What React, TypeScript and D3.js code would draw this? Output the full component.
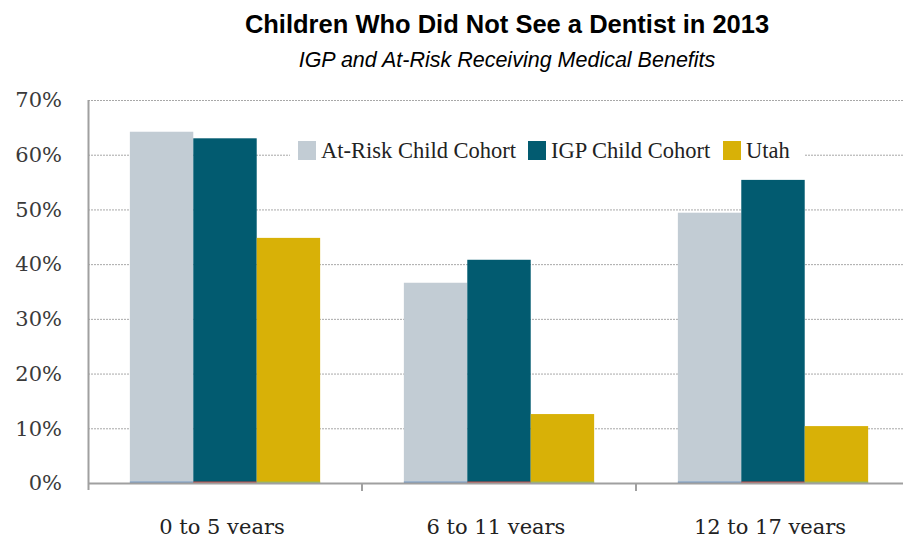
import { useEffect, useRef } from 'react';
import * as d3 from "d3";

const categories = ["0 to 5 years", "6 to 11 years", "12 to 17 years"];
const seriesNames = ["At-Risk Child Cohort", "IGP Child Cohort", "Utah"];
const atRisk = [64.2, 36.6, 49.4];
const igp = [63.0, 40.8, 55.4];
const utah = [44.8, 12.6, 10.4];
const yTicks = [0, 10, 20, 30, 40, 50, 60, 70];
const colors = ["#C2CCD4", "#025B70", "#D8B107"];
// thin lines at the base of the bars (hidden series in the original)
const baseColors = ["#7B9CC4", "#C0504D", "#9BBB59"];

const App: React.FC = () => {
    const ref = useRef<SVGSVGElement | null>(null);

    useEffect(() => {
        if (!ref.current) return;
        const width = 911;
        const height = 542;
        const margin = { top: 100, right: 1, bottom: 59, left: 88 };
        const innerWidth = width - margin.left - margin.right;
        const innerHeight = height - margin.top - margin.bottom;

        const svg = d3.select(ref.current)
            .attr("width", width)
            .attr("height", height);
        svg.selectAll("*").remove();

        const serif = "'DejaVu Serif', serif";
        const legendFont = "'Liberation Serif', serif";

        // 제목
        svg.append("text")
            .attr("x", 507).attr("y", 33)
            .attr("text-anchor", "middle")
            .attr("font-family", "'Liberation Sans Narrow', 'Liberation Sans', sans-serif")
            .attr("font-weight", "bold")
            .attr("font-size", "25.5px")
            .attr("fill", "#000")
            .text("Children Who Did Not See a Dentist in 2013");

        svg.append("text")
            .attr("x", 507).attr("y", 67)
            .attr("text-anchor", "middle")
            .attr("font-family", "'Liberation Sans Narrow', 'Liberation Sans', sans-serif")
            .attr("font-style", "italic")
            .attr("font-size", "21.5px")
            .attr("fill", "#000")
            .text("IGP and At-Risk Receiving Medical Benefits");

        const x0 = d3.scaleBand()
            .domain(categories)
            .range([0, innerWidth])
            .paddingInner(0)
            .paddingOuter(0);

        const x1 = d3.scaleBand()
            .domain(seriesNames)
            .range([0, x0.bandwidth()])
            .paddingOuter(0.66)
            .paddingInner(0);

        const y = d3.scaleLinear()
            .domain([0, 70])
            .range([innerHeight, 0]);

        const g = svg.append("g")
            .attr("transform", `translate(${margin.left}, ${margin.top})`);

        // 그리드
        g.selectAll(".grid")
            .data(yTicks.filter(d => d > 0))
            .enter()
            .append("line")
            .attr("x1", 0)
            .attr("x2", innerWidth)
            .attr("y1", d => y(d) + 0.5)
            .attr("y2", d => y(d) + 0.5)
            .attr("stroke", "#A8A8A8")
            .attr("stroke-width", 1)
            .attr("stroke-dasharray", "2,1");

        const rows = categories.map((c, i) => ({ c, vals: [atRisk[i], igp[i], utah[i]] }));

        const groups = g.selectAll(".grp")
            .data(rows)
            .enter()
            .append("g")
            .attr("transform", d => `translate(${x0(d.c) || 0}, 0)`);

        groups.selectAll("rect.bar")
            .data(d => d.vals.map((v, k) => ({ name: seriesNames[k], v, k })))
            .enter()
            .append("rect")
            .attr("class", "bar")
            .attr("x", d => x1(d.name) || 0)
            .attr("y", d => y(d.v))
            .attr("width", x1.bandwidth())
            .attr("height", d => innerHeight - y(d.v))
            .attr("fill", d => colors[d.k]);

        groups.selectAll("rect.base")
            .data(seriesNames.map((name, k) => ({ name, k })))
            .enter()
            .append("rect")
            .attr("class", "base")
            .attr("x", d => x1(d.name) || 0)
            .attr("y", innerHeight - 1.5)
            .attr("width", x1.bandwidth())
            .attr("height", 1.5)
            .attr("fill", d => baseColors[d.k]);

        // 축
        const axisColor = "#A0A0A0";
        g.append("line")
            .attr("x1", 0.5).attr("x2", 0.5)
            .attr("y1", 0).attr("y2", innerHeight + 7)
            .attr("stroke", axisColor).attr("stroke-width", 2);

        g.append("line")
            .attr("x1", 0).attr("x2", innerWidth)
            .attr("y1", innerHeight + 0.5).attr("y2", innerHeight + 0.5)
            .attr("stroke", axisColor).attr("stroke-width", 2);

        g.selectAll(".xtick")
            .data(categories.slice(1))
            .enter()
            .append("line")
            .attr("x1", d => (x0(d) || 0))
            .attr("x2", d => (x0(d) || 0))
            .attr("y1", innerHeight)
            .attr("y2", innerHeight + 8)
            .attr("stroke", axisColor).attr("stroke-width", 2);

        g.selectAll(".ylabel")
            .data(yTicks)
            .enter()
            .append("text")
            .attr("x", -26)
            .attr("y", d => y(d))
            .attr("dy", "0.35em")
            .attr("text-anchor", "end")
            .attr("font-family", serif)
            .attr("font-size", "21px")
            .attr("fill", "#3a3a3a")
            .text(d => `${d}%`);

        g.selectAll(".xlabel")
            .data(categories)
            .enter()
            .append("text")
            .attr("x", d => (x0(d) || 0) + x0.bandwidth() / 2 - 3)
            .attr("y", innerHeight + 51)
            .attr("text-anchor", "middle")
            .attr("font-family", serif)
            .attr("font-size", "21px")
            .attr("fill", "#222")
            .text(d => d);

        // 범례
        const legendX = [298, 528, 723];
        const legend = svg.append("g");
        legend.append("rect")
            .attr("x", 290).attr("y", 137)
            .attr("width", 515).attr("height", 28)
            .attr("fill", "#fff");
        seriesNames.forEach((name, k) => {
            legend.append("rect")
                .attr("x", legendX[k]).attr("y", 141)
                .attr("width", 18).attr("height", 19)
                .attr("fill", colors[k]);
            legend.append("text")
                .attr("x", legendX[k] + 23)
                .attr("y", 158)
                .attr("font-family", legendFont)
                .attr("font-size", "22.5px")
                .attr("fill", "#222")
                .text(name);
        });
    }, []);

    return (
        <div style={{ margin: -8 }}>
            <svg ref={ref} style={{ display: "block" }}></svg>
        </div>
    );
};

export default App;
